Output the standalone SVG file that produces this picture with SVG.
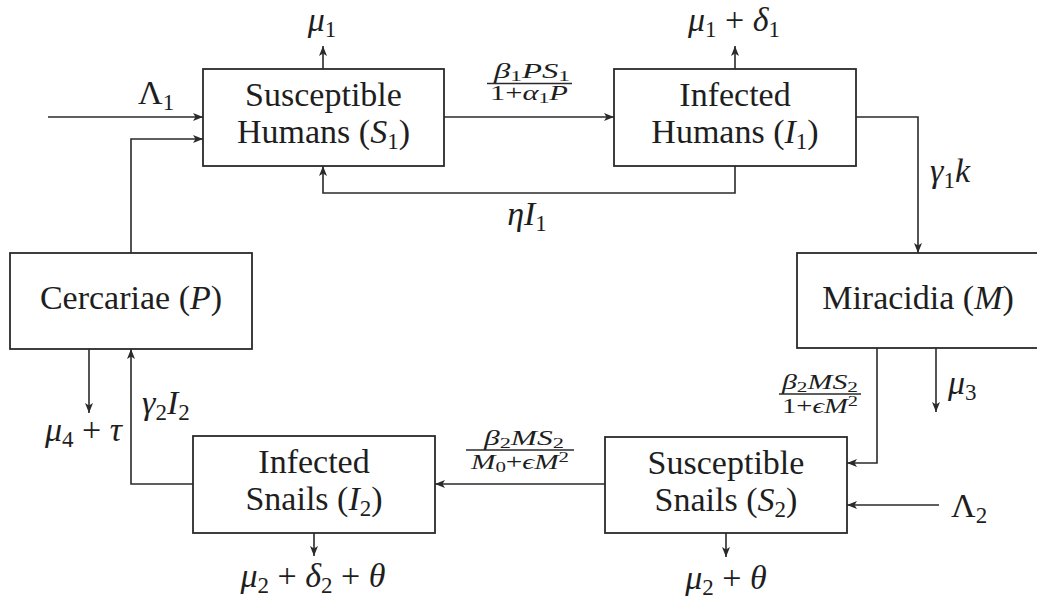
<svg xmlns="http://www.w3.org/2000/svg" width="1037" height="601" viewBox="0 0 1037 601" font-family="Liberation Serif, DejaVu Serif, serif">
  <style>
    .box { fill: #ffffff; stroke: #2a2a2a; stroke-width: 1.8; }
    .wire { fill: none; stroke: #2a2a2a; stroke-width: 1.6; marker-end: url(#tip); }
    .bar { stroke: #2a2a2a; stroke-width: 1.3; }
    text { font-family: "Liberation Serif", "DejaVu Serif", serif; fill: #1e1e1e; }
    .node { font-size: 34px; text-anchor: middle; }
    .lbl { font-size: 34px; font-style: italic; }
    .mid { text-anchor: middle; }
    .up { font-style: normal; }
    .sub { font-size: 23px; font-style: normal; }
    .frac { font-size: 21px; font-style: italic; text-anchor: middle; }
    .fsub { font-size: 15px; font-style: normal; }
  </style>
  <defs>
    <marker id="tip" viewBox="0 0 10 8" refX="10" refY="4" markerWidth="10" markerHeight="8" markerUnits="userSpaceOnUse" orient="auto">
      <path d="M0,0 L10,4 L0,8 L2.5,4 Z" fill="#2a2a2a"/>
    </marker>
  </defs>

  <!-- connectors -->
  <g id="connectors">
    <path class="wire" d="M48,117 H203"/>
    <path class="wire" d="M131,253 V139 H203"/>
    <path class="wire" d="M444,117 H614"/>
    <path class="wire" d="M735,166 V193 H323 V166"/>
    <path class="wire" d="M323,69 V46"/>
    <path class="wire" d="M735,69 V46"/>
    <path class="wire" d="M856,117 H918 V253"/>
    <path class="wire" d="M877,348 V463 H847"/>
    <path class="wire" d="M936,348 V412"/>
    <path class="wire" d="M939,505 H847"/>
    <path class="wire" d="M605,484 H435"/>
    <path class="wire" d="M726,533 V557"/>
    <path class="wire" d="M314,533 V556"/>
    <path class="wire" d="M193,484 H131 V349"/>
    <path class="wire" d="M89,349 V413"/>
  </g>

  <!-- rate labels -->
  <g id="labels">
    <text class="lbl mid" x="322" y="31">μ<tspan class="sub" dy="6">1</tspan></text>
    <text class="lbl mid" x="734" y="31">μ<tspan class="sub" dy="6">1</tspan><tspan class="up" dy="-6"> + </tspan>δ<tspan class="sub" dy="6">1</tspan></text>
    <text class="lbl" x="138" y="104"><tspan class="up">Λ</tspan><tspan class="sub" dy="6">1</tspan></text>

    <!-- infection of humans -->
    <text class="frac" x="532" y="78" textLength="76" lengthAdjust="spacingAndGlyphs">β<tspan class="fsub" dy="3">1</tspan><tspan dy="-3">PS</tspan><tspan class="fsub" dy="3">1</tspan></text>
    <line class="bar" x1="487" y1="83.5" x2="572" y2="83.5"/>
    <text class="frac" x="529" y="100" textLength="78" lengthAdjust="spacingAndGlyphs"><tspan class="up">1+</tspan>α<tspan class="fsub" dy="3">1</tspan><tspan dy="-3">P</tspan></text>

    <text class="lbl mid" x="527" y="225">η<tspan>I</tspan><tspan class="sub" dy="6">1</tspan></text>
    <text class="lbl" x="930" y="182">γ<tspan class="sub" dy="6">1</tspan><tspan dy="-6">k</tspan></text>
    <text class="lbl" x="948" y="394">μ<tspan class="sub" dy="6">3</tspan></text>

    <!-- infection of snails by miracidia -->
    <text class="frac" x="820" y="389" textLength="76" lengthAdjust="spacingAndGlyphs">β<tspan class="fsub" dy="3">2</tspan><tspan dy="-3">MS</tspan><tspan class="fsub" dy="3">2</tspan></text>
    <line class="bar" x1="779" y1="394" x2="861" y2="394"/>
    <text class="frac" x="820" y="413" textLength="76" lengthAdjust="spacingAndGlyphs"><tspan class="up">1+</tspan>ϵM<tspan class="fsub" dy="-7">2</tspan></text>

    <text class="lbl" x="951" y="517"><tspan class="up">Λ</tspan><tspan class="sub" dy="6">2</tspan></text>

    <!-- progression of snail infection -->
    <text class="frac" x="524" y="445" textLength="80" lengthAdjust="spacingAndGlyphs">β<tspan class="fsub" dy="3">2</tspan><tspan dy="-3">MS</tspan><tspan class="fsub" dy="3">2</tspan></text>
    <line class="bar" x1="466" y1="450" x2="574" y2="450"/>
    <text class="frac" x="520" y="469" textLength="98" lengthAdjust="spacingAndGlyphs">M<tspan class="fsub" dy="3">0</tspan><tspan class="up" dy="-3">+</tspan>ϵM<tspan class="fsub" dy="-7">2</tspan></text>

    <text class="lbl mid" x="726" y="589">μ<tspan class="sub" dy="6">2</tspan><tspan class="up" dy="-6"> + </tspan>θ</text>
    <text class="lbl mid" x="313" y="587">μ<tspan class="sub" dy="6">2</tspan><tspan class="up" dy="-6"> + </tspan>δ<tspan class="sub" dy="6">2</tspan><tspan class="up" dy="-6"> + </tspan>θ</text>
    <text class="lbl" x="45" y="441">μ<tspan class="sub" dy="6">4</tspan><tspan class="up" dy="-6"> + </tspan>τ</text>
    <text class="lbl" x="142" y="414">γ<tspan class="sub" dy="6">2</tspan><tspan dy="-6">I</tspan><tspan class="sub" dy="6">2</tspan></text>
  </g>

  <!-- compartments -->
  <g id="susceptible-humans">
    <rect class="box" x="203" y="69" width="241" height="97"/>
    <text class="node" x="323.5" y="106">Susceptible</text>
    <text class="node" x="323.5" y="143">Humans (<tspan font-style="italic">S</tspan><tspan class="sub" dy="6">1</tspan><tspan dy="-6">)</tspan></text>
  </g>
  <g id="infected-humans">
    <rect class="box" x="614" y="69" width="242" height="97"/>
    <text class="node" x="735" y="106">Infected</text>
    <text class="node" x="735" y="143">Humans (<tspan font-style="italic">I</tspan><tspan class="sub" dy="6">1</tspan><tspan dy="-6">)</tspan></text>
  </g>
  <g id="miracidia">
    <rect class="box" x="797" y="253" width="242" height="95"/>
    <text class="node" x="918" y="309">Miracidia (<tspan font-style="italic">M</tspan>)</text>
  </g>
  <g id="cercariae">
    <rect class="box" x="10" y="253" width="242" height="96"/>
    <text class="node" x="131" y="309">Cercariae (<tspan font-style="italic">P</tspan>)</text>
  </g>
  <g id="infected-snails">
    <rect class="box" x="193" y="436" width="242" height="97"/>
    <text class="node" x="314" y="473">Infected</text>
    <text class="node" x="314" y="510">Snails (<tspan font-style="italic">I</tspan><tspan class="sub" dy="6">2</tspan><tspan dy="-6">)</tspan></text>
  </g>
  <g id="susceptible-snails">
    <rect class="box" x="605" y="437" width="242" height="96"/>
    <text class="node" x="726" y="474">Susceptible</text>
    <text class="node" x="726" y="511">Snails (<tspan font-style="italic">S</tspan><tspan class="sub" dy="6">2</tspan><tspan dy="-6">)</tspan></text>
  </g>
</svg>
